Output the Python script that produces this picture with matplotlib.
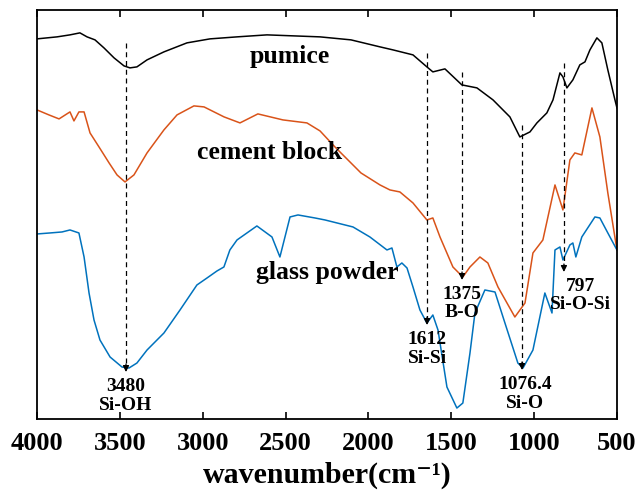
import numpy as np
import matplotlib
matplotlib.use("Agg")
import matplotlib.pyplot as plt

plt.rcParams['font.family'] = ['Liberation Serif', 'DejaVu Serif']
plt.rcParams['font.weight'] = 'bold'

# spectra (wavenumber, offset intensity in arbitrary units)
pumice_wn = [4000, 3879, 3801, 3741, 3698, 3650, 3596, 3535, 3475, 3439, 3397, 3336,
             3234, 3095, 2956, 2793, 2612, 2292, 2105, 1930, 1852, 1731, 1647, 1611,
             1538, 1436, 1345, 1248, 1146, 1086, 1025, 983, 923, 886, 844, 826,
             802, 766, 724, 693, 663, 621, 591, 555, 512, 500]
pumice_y = [380, 382, 384, 386, 382, 379, 371, 361, 353, 351, 352, 359,
            367, 376, 380, 382, 384, 382, 379, 372, 369, 364, 352, 347,
            350, 334, 331, 319, 302, 282, 287, 296, 306, 319, 346, 342,
            331, 339, 354, 357, 369, 381, 376, 349, 319, 311]

cement_wn = [4000, 3928, 3867, 3801, 3777, 3747, 3716, 3680, 3626, 3565, 3517, 3469,
             3415, 3336, 3234, 3155, 3053, 2992, 2871, 2775, 2667, 2516, 2371, 2292,
             2202, 2045, 1930, 1870, 1810, 1731, 1647, 1611, 1568, 1490, 1430, 1387,
             1327, 1279, 1218, 1116, 1055, 1007, 947, 874, 826, 784, 754, 712,
             651, 603, 555, 500]
cement_y = [309, 304, 300, 307, 298, 307, 307, 286, 272, 256, 244, 237,
            244, 266, 289, 304, 313, 312, 302, 296, 305, 299, 296, 288,
            272, 246, 234, 229, 227, 216, 199, 201, 182, 152, 142, 152,
            162, 156, 132, 102, 116, 166, 179, 234, 209, 259, 266, 264,
            311, 282, 226, 169]

glass_wn = [4000, 3922, 3849, 3801, 3747, 3716, 3686, 3656, 3620, 3559, 3487, 3445,
            3397, 3336, 3234, 3137, 3035, 2974, 2914, 2872, 2836, 2793, 2673, 2582,
            2534, 2473, 2425, 2323, 2262, 2093, 1991, 1888, 1858, 1828, 1798, 1767,
            1731, 1689, 1647, 1611, 1580, 1526, 1466, 1430, 1387, 1357, 1297, 1236,
            1176, 1098, 1067, 1007, 935, 892, 874, 844, 826, 784, 766, 748,
            712, 633, 603, 555, 500]
glass_y = [185, 186, 187, 189, 186, 162, 126, 99, 79, 62, 52, 51,
           56, 69, 86, 109, 134, 141, 148, 152, 169, 179, 193, 182,
           162, 202, 204, 201, 199, 192, 182, 169, 171, 152, 156, 151,
           132, 109, 96, 104, 89, 32, 11, 16, 66, 106, 129, 127,
           96, 56, 51, 69, 126, 106, 169, 172, 159, 174, 176, 162,
           182, 202, 201, 186, 169]

# marked bands: position as drawn, top of dashed line, arrow tip, label
band_wn = [3463, 1646, 1435, 1073, 820]
band_top = [376, 366, 347, 294, 356]
band_tip = [47, 94, 139, 49, 147]
band_labels = ['3480\nSi-OH', '1612\nSi-Si', '1375\nB-O', '1076.4\nSi-O', '797\nSi-O-Si']
label_dx = [0, 0, 0, 2, 12]

fig = plt.figure(figsize=(6.38, 4.93), dpi=100)
ax = fig.add_axes([0.058, 0.150, 0.909, 0.830])

ax.plot(pumice_wn, pumice_y, color='black', lw=1.1)
ax.plot(cement_wn, cement_y, color='#D95319', lw=1.1)
ax.plot(glass_wn, glass_y, color='#0072BD', lw=1.1)

for x, top, tip, lab, dx in zip(band_wn, band_top, band_tip, band_labels, label_dx):
    ax.plot([x, x], [top, tip + 4], color='black', lw=0.9, dashes=(4, 3))
    ax.annotate('', xy=(x, tip), xytext=(x, tip + 8),
                arrowprops=dict(arrowstyle='-|>', color='black', lw=0.9,
                                mutation_scale=9, shrinkA=0, shrinkB=0))
    ax.annotate(lab, xy=(x, tip), xytext=(dx, -4), textcoords='offset points',
                ha='center', va='top', fontsize=14, fontweight='bold',
                linespacing=1.15)

ax.text(2473, 362, 'pumice', fontsize=18.5, fontweight='bold', ha='center', va='center')
ax.text(2594, 266, 'cement block', fontsize=18.5, fontweight='bold', ha='center', va='center')
ax.text(2250, 146, 'glass powder', fontsize=18.5, fontweight='bold', ha='center', va='center')

ax.set_xlim(4000, 500)
ax.set_ylim(0, 409)
ax.set_xticks([4000, 3500, 3000, 2500, 2000, 1500, 1000, 500])
ax.set_yticks([])
ax.tick_params(axis='x', direction='in', top=True, length=5, width=1.2,
               labelsize=19, pad=9)
for lbl in ax.get_xticklabels():
    lbl.set_fontweight('bold')
for sp in ax.spines.values():
    sp.set_linewidth(1.3)
ax.set_xlabel('wavenumber(cm\u207b\u00b9)', fontsize=21.5, fontweight='bold', labelpad=5)

fig.savefig('out.png', dpi=100)
